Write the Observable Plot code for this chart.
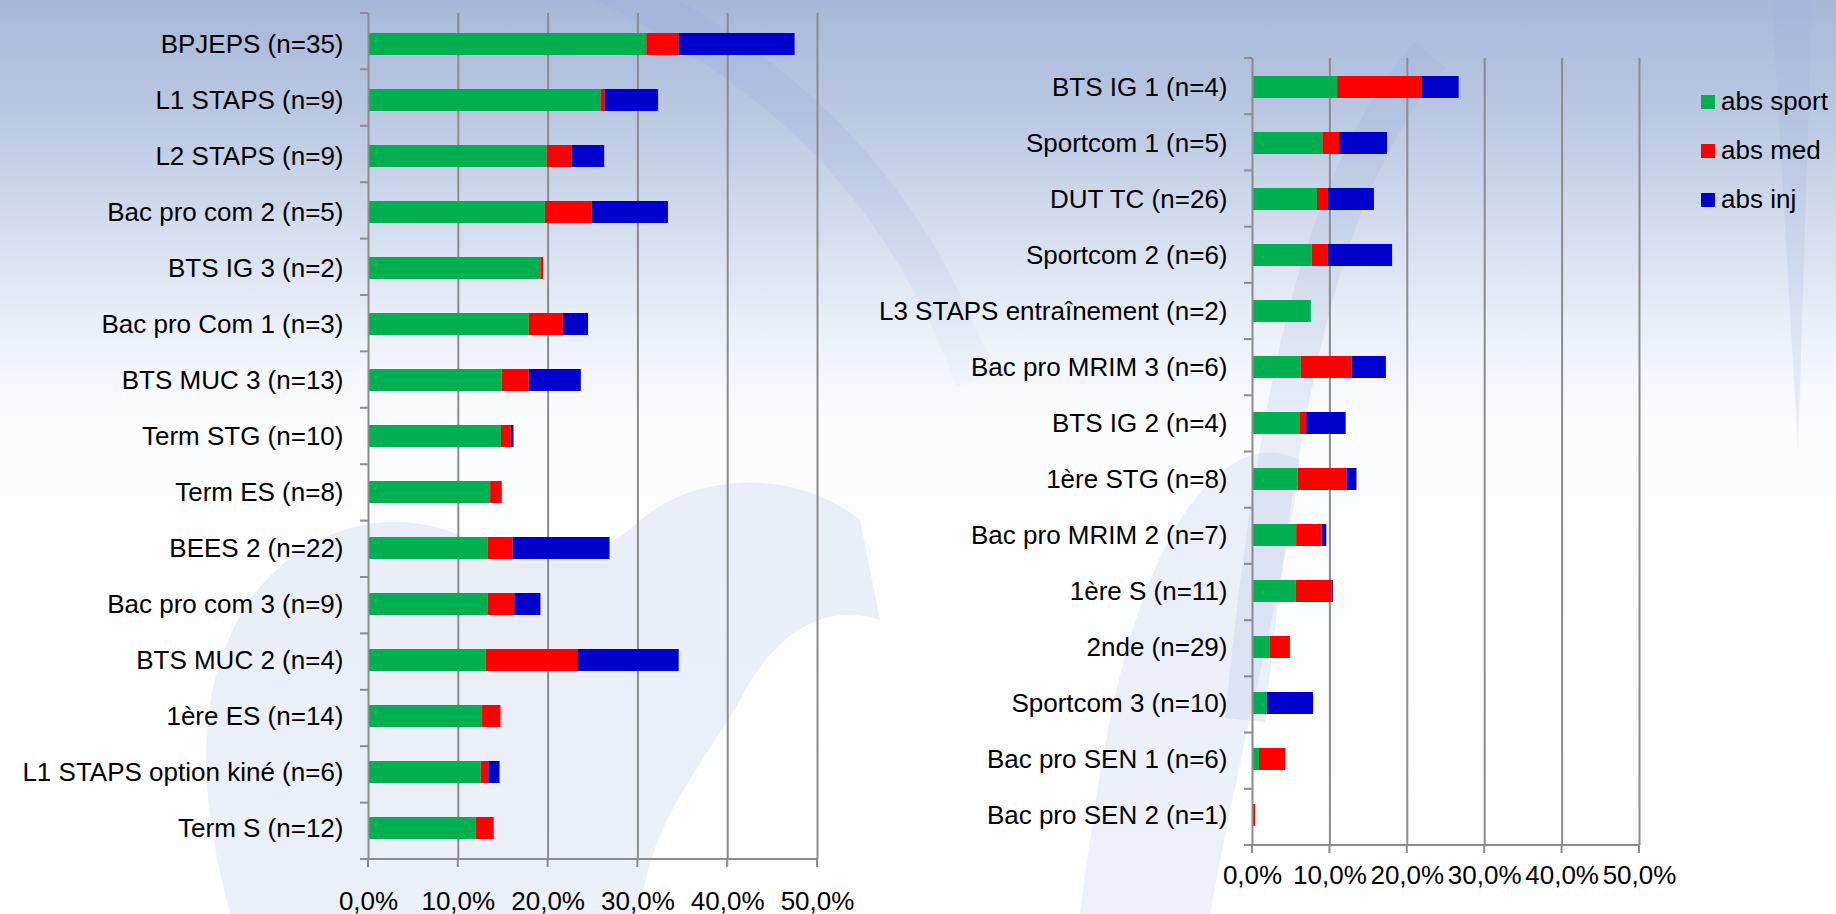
<!DOCTYPE html>
<html>
<head>
<meta charset="utf-8">
<script src="https://cdn.jsdelivr.net/npm/d3@7"></script>
<script src="https://cdn.jsdelivr.net/npm/@observablehq/plot@0.6"></script>
<style>
  html, body { margin: 0; padding: 0; }
  body {
    width: 1836px; height: 914px; overflow: hidden; position: relative;
    font-family: "Liberation Sans", Arial, sans-serif;
    background: linear-gradient(to bottom, #a7b8d8 0%, #b9c7e2 12%, #d6dfef 26%, #ebf0f8 36%, #fbfcfe 46%, #ffffff 100%);
  }
  #bg { position: absolute; left: 0; top: 0; }
  .chart { position: absolute; top: 0; }
  #legend { position: absolute; left: 1701px; top: 0; }
  .item { position: absolute; left: 0; white-space: nowrap; font-size: 26px; color: #000; line-height: 30px; }
  .sw { display: inline-block; width: 14px; height: 14px; margin-right: 6px; vertical-align: 1px; }
</style>
</head>
<body>
<svg id="bg" width="1836" height="914">
  <defs>
    <linearGradient id="fade" x1="0" y1="0" x2="0" y2="1">
      <stop offset="0" stop-color="rgb(150,170,218)" stop-opacity="0.28"/>
      <stop offset="1" stop-color="rgb(150,170,218)" stop-opacity="0.05"/>
    </linearGradient>
  </defs>
  <g fill="none" stroke="rgba(150,170,218,0.18)" stroke-linecap="butt">
    <path d="M 600 -20 C 760 60, 900 170, 975 380" stroke="url(#fade)" stroke-width="40"/>
    <path d="M 1430 55 C 1330 170, 1280 360, 1245 720" stroke-width="40"/>
  </g>
  <path fill="rgba(150,170,218,0.18)" d="M 1772 0 L 1812 0 L 1798 450 Z"/>
  <path fill="rgba(160,178,220,0.2)" d="M 230 914 C 200 800, 190 690, 250 600 C 300 530, 390 500, 470 540 C 540 575, 600 560, 640 520 C 700 470, 800 470, 860 520 L 880 620 C 820 600, 770 640, 740 700 C 700 770, 650 820, 640 914 Z"/>
  <path fill="rgba(160,178,220,0.18)" d="M 1080 914 C 1100 760, 1120 620, 1180 520 C 1220 460, 1260 440, 1300 460 C 1290 560, 1250 700, 1210 914 Z"/>
</svg>
<div id="left" class="chart" style="left:0px"></div>
<div id="right" class="chart" style="left:860px"></div>
<div id="legend"></div>
<script>
// ---- data ----
const seriesNames = ["abs sport", "abs med", "abs inj"];
const seriesColors = ["#00b050", "#ff0000", "#0000cc"];
const xTicks = [0, 10, 20, 30, 40, 50];

const leftCats = ["BPJEPS (n=35)", "L1 STAPS (n=9)", "L2 STAPS (n=9)", "Bac pro com 2 (n=5)", "BTS IG 3 (n=2)", "Bac pro Com 1 (n=3)", "BTS MUC 3 (n=13)", "Term STG (n=10)", "Term ES (n=8)", "BEES 2 (n=22)", "Bac pro com 3 (n=9)", "BTS MUC 2 (n=4)", "1ère ES (n=14)", "L1 STAPS option kiné (n=6)", "Term S (n=12)"];
const leftSport = [31.0, 25.9, 19.9, 19.7, 19.2, 17.9, 14.9, 14.8, 13.6, 13.3, 13.3, 13.1, 12.7, 12.55, 12.0];
const leftMed   = [3.6, 0.45, 2.8, 5.2, 0.3, 3.8, 3.0, 1.1, 1.3, 2.8, 3.0, 10.2, 2.05, 0.85, 2.0];
const leftInj   = [12.9, 5.95, 3.6, 8.5, 0, 2.8, 5.8, 0.3, 0, 10.8, 2.9, 11.3, 0, 1.25, 0];

const rightCats = ["BTS IG 1 (n=4)", "Sportcom 1 (n=5)", "DUT TC (n=26)", "Sportcom 2 (n=6)", "L3 STAPS entraînement (n=2)", "Bac pro MRIM 3 (n=6)", "BTS IG 2 (n=4)", "1ère STG (n=8)", "Bac pro MRIM 2 (n=7)", "1ère S (n=11)", "2nde (n=29)", "Sportcom 3 (n=10)", "Bac pro SEN 1 (n=6)", "Bac pro SEN 2 (n=1)"];
const rightSport = [11.0, 9.1, 8.4, 7.7, 7.6, 6.3, 6.2, 5.9, 5.7, 5.6, 2.3, 1.9, 0.9, 0];
const rightMed   = [10.9, 2.15, 1.35, 2.05, 0, 6.6, 0.8, 6.3, 3.3, 4.7, 2.6, 0, 3.4, 0.4];
const rightInj   = [4.8, 6.2, 6.0, 8.35, 0, 4.4, 5.1, 1.3, 0.6, 0.15, 0, 6.0, 0, 0];

const fmt = d => d.toFixed(1).replace(".", ",") + "%";
const GRID = "#8c8c8c";

function makeChart(cats, sport, med, inj, o) {
  const data = [];
  cats.forEach((c, i) => {
    [sport[i], med[i], inj[i]].forEach((v, k) => data.push({cat: c, series: seriesNames[k], value: v}));
  });
  const chart = Plot.plot({
    width: o.width, height: 914,
    marginLeft: o.ml, marginRight: o.mr, marginTop: o.mt, marginBottom: o.mb,
    style: {background: "transparent", fontFamily: "'Liberation Sans', Arial, sans-serif", fontSize: "26px", color: "#000", overflow: "visible"},
    x: {domain: [0, 50], ticks: xTicks, tickFormat: fmt, tickSize: 0, tickPadding: o.xpad, label: null},
    y: {domain: cats, paddingInner: 0.6, paddingOuter: 0.3, tickSize: 0, tickPadding: 25, label: null},
    color: {domain: seriesNames, range: seriesColors},
    marks: [
      Plot.ruleX(xTicks.slice(1), {stroke: GRID, strokeWidth: 2}),
      Plot.barX(data, {x: "value", y: "cat", fill: "series"}),
      Plot.ruleX([0], {stroke: GRID, strokeWidth: 2})
    ]
  });
  // axis lines & tick marks drawn from the library's scales
  const xs = chart.scale("x"), ys = chart.scale("y");
  const [r0, r1] = ys.range;
  const n = cats.length, step = (r1 - r0) / n;
  const x0 = xs.apply(0), xEnd = xs.apply(50);
  const g = d3.select(chart).append("g").attr("stroke", GRID).attr("stroke-width", 2);
  g.append("line").attr("x1", x0).attr("x2", xEnd).attr("y1", r1).attr("y2", r1);
  for (let i = 0; i <= n; i++) {
    const yy = r0 + i * step;
    g.append("line").attr("x1", x0 - 8).attr("x2", x0).attr("y1", yy).attr("y2", yy);
  }
  xTicks.forEach(t => {
    const xx = xs.apply(t);
    g.append("line").attr("x1", xx).attr("x2", xx).attr("y1", r1).attr("y2", r1 + 8);
  });
  return chart;
}

document.getElementById("left").appendChild(
  makeChart(leftCats, leftSport, leftMed, leftInj, {width: 860, ml: 368, mr: 43, mt: 13, mb: 55, xpad: 32}));
document.getElementById("right").appendChild(
  makeChart(rightCats, rightSport, rightMed, rightInj, {width: 820, ml: 392, mr: 41, mt: 58, mb: 69, xpad: 20}));

const legend = document.getElementById("legend");
seriesNames.forEach((s, i) => {
  const d = document.createElement("div");
  d.className = "item";
  d.style.top = (86 + i * 49) + "px";
  d.innerHTML = `<span class="sw" style="background:${seriesColors[i]}"></span>${s}`;
  legend.appendChild(d);
});
</script>
</body>
</html>
